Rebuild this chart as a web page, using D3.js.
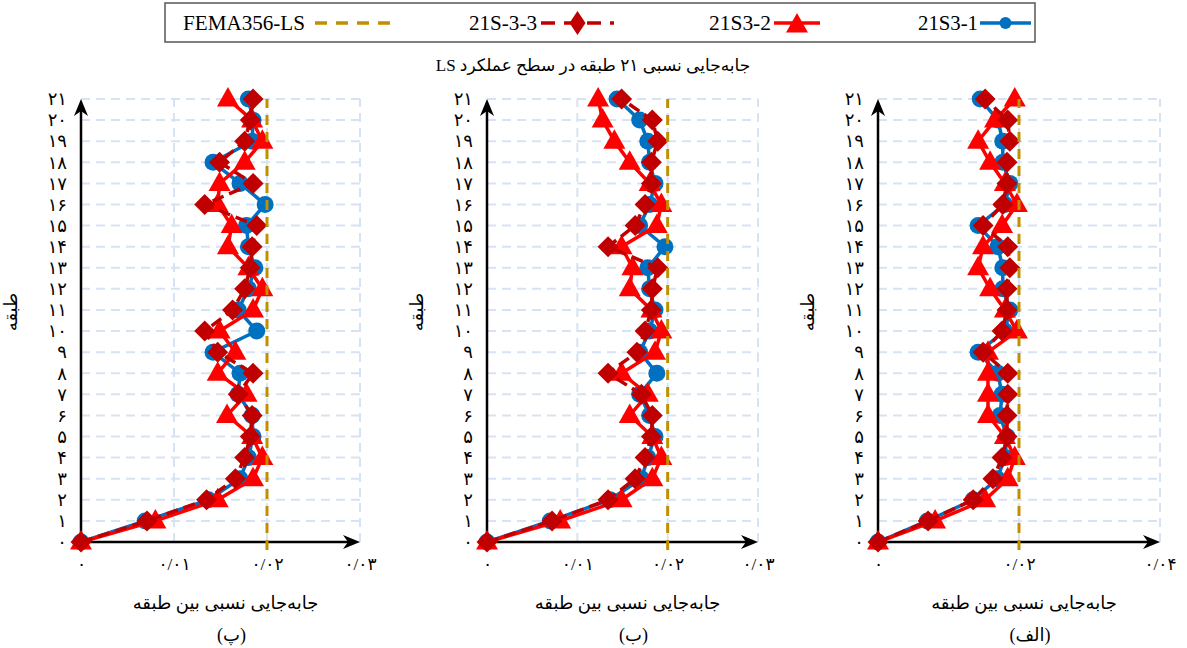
<!DOCTYPE html>
<html>
<head>
<meta charset="utf-8">
<script src="https://cdn.jsdelivr.net/npm/d3@7"></script>
<style>
  body { margin: 0; background: #fff; }
  svg { display: block; }
  text { font-family: "Liberation Serif", "DejaVu Sans", serif; fill: #000; }
</style>
</head>
<body>
<svg id="chart" width="1187" height="648"></svg>
<script>
'use strict';

// storeys 0..21
var floors = d3.range(0, 22);

// panel (پ)
var pA = [0, 0.0069, 0.0137, 0.0171, 0.0180, 0.0185, 0.0184, 0.0169, 0.0171, 0.0142, 0.0189, 0.0169, 0.0180, 0.0187, 0.0180, 0.0178, 0.0198, 0.0171, 0.0142, 0.0184, 0.0185, 0.0180];
var pB = [0, 0.0080, 0.0147, 0.0185, 0.0195, 0.0184, 0.0157, 0.0178, 0.0147, 0.0166, 0.0149, 0.0185, 0.0195, 0.0180, 0.0158, 0.0162, 0.0147, 0.0149, 0.0176, 0.0195, 0.0184, 0.0158];
var pC = [0, 0.0071, 0.0135, 0.0166, 0.0176, 0.0182, 0.0184, 0.0169, 0.0185, 0.0147, 0.0133, 0.0163, 0.0176, 0.0182, 0.0184, 0.0189, 0.0133, 0.0185, 0.0149, 0.0176, 0.0182, 0.0185];

// panel (ب)
var bA = [0, 0.0070, 0.0136, 0.0171, 0.0178, 0.0186, 0.0180, 0.0169, 0.0188, 0.0169, 0.0180, 0.0186, 0.0180, 0.0178, 0.0197, 0.0169, 0.0180, 0.0186, 0.0180, 0.0178, 0.0169, 0.0144];
var bB = [0, 0.0081, 0.0149, 0.0183, 0.0193, 0.0183, 0.0158, 0.0178, 0.0149, 0.0186, 0.0193, 0.0182, 0.0158, 0.0161, 0.0149, 0.0188, 0.0193, 0.0180, 0.0158, 0.0141, 0.0128, 0.0123];
var bC = [0, 0.0072, 0.0134, 0.0164, 0.0175, 0.0182, 0.0183, 0.0171, 0.0134, 0.0166, 0.0175, 0.0182, 0.0183, 0.0189, 0.0134, 0.0164, 0.0175, 0.0182, 0.0182, 0.0189, 0.0183, 0.0149];

// panel (الف)
var aA = [0, 0.0070, 0.0135, 0.0169, 0.0180, 0.0183, 0.0173, 0.0176, 0.0170, 0.0142, 0.0180, 0.0187, 0.0177, 0.0177, 0.0170, 0.0142, 0.0180, 0.0187, 0.0177, 0.0177, 0.0170, 0.0145];
var aB = [0, 0.0081, 0.0152, 0.0184, 0.0194, 0.0180, 0.0156, 0.0156, 0.0156, 0.0156, 0.0197, 0.0180, 0.0159, 0.0142, 0.0149, 0.0176, 0.0197, 0.0180, 0.0159, 0.0142, 0.0166, 0.0194];
var aC = [0, 0.0071, 0.0135, 0.0163, 0.0176, 0.0183, 0.0183, 0.0184, 0.0184, 0.0149, 0.0176, 0.0183, 0.0183, 0.0187, 0.0184, 0.0149, 0.0177, 0.0183, 0.0183, 0.0187, 0.0184, 0.0152];

var femaLimit = 0.02;

var legendNames = ['FEMA356-LS', '21S-3-3', '21S3-2', '21S3-1'];

var chartTitle = 'جابه‌جایی نسبی ۲۱ طبقه در سطح عملکرد LS';
var xTitle = 'جابه‌جایی نسبی بین طبقه';
var yTitle = 'طبقه';
var panelLabels = ['(پ)', '(ب)', '(الف)'];

var panels = [
  {label: panelLabels[0], series: [pA, pB, pC], xMax: 0.03, ticks: [0, 0.01, 0.02, 0.03], left: 81, right: 360},
  {label: panelLabels[1], series: [bA, bB, bC], xMax: 0.03, ticks: [0, 0.01, 0.02, 0.03], left: 487, right: 758},
  {label: panelLabels[2], series: [aA, aB, aC], xMax: 0.04, ticks: [0, 0.02, 0.04], left: 878, right: 1160}
];

var blue = '#0070c0', red = '#ff0000', darkRed = '#c00000', gold = '#bf9000', grid = '#d6e3f4';

var faDigits = '۰۱۲۳۴۵۶۷۸۹';
function toFa(s) {
  return String(s).replace(/[0-9]/g, function (d) { return faDigits[+d]; });
}
function fmtTick(v) {
  if (v === 0) return toFa('0');
  return toFa(d3.format('.2f')(v)).replace('.', '/');
}

var svg = d3.select('#chart');
var y = d3.scaleLinear().domain([0, 21]).range([542, 99]);

function markerPath(kind, x, yy) {
  if (kind === 'tri') {
    return 'M' + x + ',' + (yy - 12) + 'L' + (x + 11) + ',' + (yy + 7.5) + 'L' + (x - 11) + ',' + (yy + 7.5) + 'Z';
  }
  return 'M' + x + ',' + (yy - 10.5) + 'L' + (x + 10.5) + ',' + yy + 'L' + x + ',' + (yy + 10.5) + 'L' + (x - 10.5) + ',' + yy + 'Z';
}

panels.forEach(function (p) {
  var x = d3.scaleLinear().domain([0, p.xMax]).range([p.left, p.right]);
  var g = svg.append('g');

  // grid
  g.selectAll('line.hg').data(floors.slice(1)).enter().append('line')
    .attr('x1', x(0)).attr('x2', x(p.xMax))
    .attr('y1', function (d) { return y(d); }).attr('y2', function (d) { return y(d); })
    .attr('stroke', grid).attr('stroke-width', 2).attr('stroke-dasharray', '9,6');
  g.selectAll('line.vg').data(p.ticks.slice(1)).enter().append('line')
    .attr('x1', function (d) { return x(d); }).attr('x2', function (d) { return x(d); })
    .attr('y1', y(0)).attr('y2', y(21))
    .attr('stroke', grid).attr('stroke-width', 2).attr('stroke-dasharray', '9,6');

  // axes tick labels
  var xa = g.append('g').attr('transform', 'translate(0,' + y(0) + ')')
    .call(d3.axisBottom(x).tickValues(p.ticks).tickSize(0).tickPadding(16).tickFormat(fmtTick));
  xa.select('.domain').remove();
  xa.selectAll('text').attr('font-size', 17).attr('font-family', '"DejaVu Sans", sans-serif');

  var ya = g.append('g').attr('transform', 'translate(' + x(0) + ',0)')
    .call(d3.axisLeft(y).tickValues(floors).tickSize(0).tickPadding(14).tickFormat(toFa));
  ya.select('.domain').remove();
  ya.selectAll('text').attr('font-size', 18).attr('font-family', '"DejaVu Sans", sans-serif');

  // axis lines with arrows
  g.append('line').attr('x1', x(0)).attr('x2', x(0)).attr('y1', y(0)).attr('y2', y(21) + 6)
    .attr('stroke', '#000').attr('stroke-width', 2.5);
  g.append('line').attr('x1', x(0)).attr('x2', x(p.xMax) - 6).attr('y1', y(0)).attr('y2', y(0))
    .attr('stroke', '#000').attr('stroke-width', 2.5);
  var ax = x(0), ay = y(21);
  g.append('path')
    .attr('d', 'M' + ax + ',' + ay + 'L' + (ax + 7) + ',' + (ay + 17) + 'L' + ax + ',' + (ay + 12) + 'L' + (ax - 7) + ',' + (ay + 17) + 'Z')
    .attr('fill', '#000');
  var bx = x(p.xMax), by = y(0);
  g.append('path')
    .attr('d', 'M' + bx + ',' + by + 'L' + (bx - 17) + ',' + (by - 7) + 'L' + (bx - 12) + ',' + by + 'L' + (bx - 17) + ',' + (by + 7) + 'Z')
    .attr('fill', '#000');

  // series
  var line = d3.line()
    .x(function (d) { return x(d); })
    .y(function (d, i) { return y(floors[i]); });

  var styles = [
    {color: blue, dash: null, kind: 'circle'},
    {color: red, dash: null, kind: 'tri'},
    {color: darkRed, dash: '12,6', kind: 'dia'}
  ];

  styles.forEach(function (s, k) {
    var data = p.series[k];
    var sg = g.append('g').attr('class', 's' + k);
    sg.append('path').datum(data).attr('d', line)
      .attr('fill', 'none').attr('stroke', s.color).attr('stroke-width', 3.5)
      .attr('stroke-dasharray', s.dash);
    if (s.kind === 'circle') {
      sg.selectAll('circle').data(data).enter().append('circle')
        .attr('cx', function (d) { return x(d); })
        .attr('cy', function (d, i) { return y(floors[i]); })
        .attr('r', 8.5).attr('fill', s.color);
    } else {
      sg.selectAll('path.m').data(data).enter().append('path')
        .attr('class', 'm')
        .attr('d', function (d, i) { return markerPath(s.kind, x(d), y(floors[i])); })
        .attr('fill', s.color);
    }
  });

  // FEMA limit
  g.append('line').attr('x1', x(femaLimit)).attr('x2', x(femaLimit))
    .attr('y1', y(0) + 8).attr('y2', y(21))
    .attr('stroke', gold).attr('stroke-width', 3).attr('stroke-dasharray', '10,7');

  // titles
  var cx = (x(0) + x(p.xMax)) / 2 + 5;
  g.append('text').attr('x', cx).attr('y', 609).attr('text-anchor', 'middle')
    .attr('direction', 'rtl').attr('font-size', 18).text(xTitle);
  g.append('text').attr('x', cx + 6).attr('y', 641).attr('text-anchor', 'middle')
    .attr('direction', 'rtl').attr('font-size', 18).text(p.label);
  g.append('text').attr('transform', 'translate(' + (x(0) - 64) + ',' + 312 + ') rotate(-90)')
    .attr('text-anchor', 'middle').attr('direction', 'rtl').attr('font-size', 18).text(yTitle);
});

// chart title
svg.append('text').attr('x', 593).attr('y', 71).attr('text-anchor', 'middle')
  .attr('direction', 'rtl').attr('font-size', 17).text(chartTitle);

// legend
var lg = svg.append('g');
lg.append('rect').attr('x', 165).attr('y', 3).attr('width', 870).attr('height', 39)
  .attr('fill', '#fff').attr('stroke', '#555').attr('stroke-width', 1.5);

var legendItems = [
  {name: legendNames[0], tx: 183, w: 122, l1: 315, l2: 390, color: gold, dash: '12,9', kind: null},
  {name: legendNames[1], tx: 469, w: 68, l1: 541, l2: 614, color: darkRed, dash: '14,9', kind: 'dia'},
  {name: legendNames[2], tx: 709, w: 62, l1: 774, l2: 820, color: red, dash: null, kind: 'tri'},
  {name: legendNames[3], tx: 918, w: 60, l1: 980, l2: 1031, color: blue, dash: null, kind: 'circle'}
];
legendItems.forEach(function (it) {
  lg.append('text').attr('x', it.tx).attr('y', 30).attr('font-size', 22)
    .attr('textLength', it.w).attr('lengthAdjust', 'spacingAndGlyphs').text(it.name);
  lg.append('line').attr('x1', it.l1).attr('x2', it.l2).attr('y1', 23).attr('y2', 23)
    .attr('stroke', it.color).attr('stroke-width', 3.5).attr('stroke-dasharray', it.dash);
  var mx = (it.l1 + it.l2) / 2;
  if (it.kind === 'circle') {
    lg.append('circle').attr('cx', mx).attr('cy', 23).attr('r', 6).attr('fill', it.color);
  } else if (it.kind === 'tri') {
    lg.append('path').attr('d', markerPath('tri', mx, 25)).attr('fill', it.color);
  } else if (it.kind === 'dia') {
    lg.append('path').attr('d', 'M' + mx + ',11L' + (mx + 8) + ',23L' + mx + ',35L' + (mx - 8) + ',23Z').attr('fill', it.color);
  }
});
</script>
</body>
</html>
